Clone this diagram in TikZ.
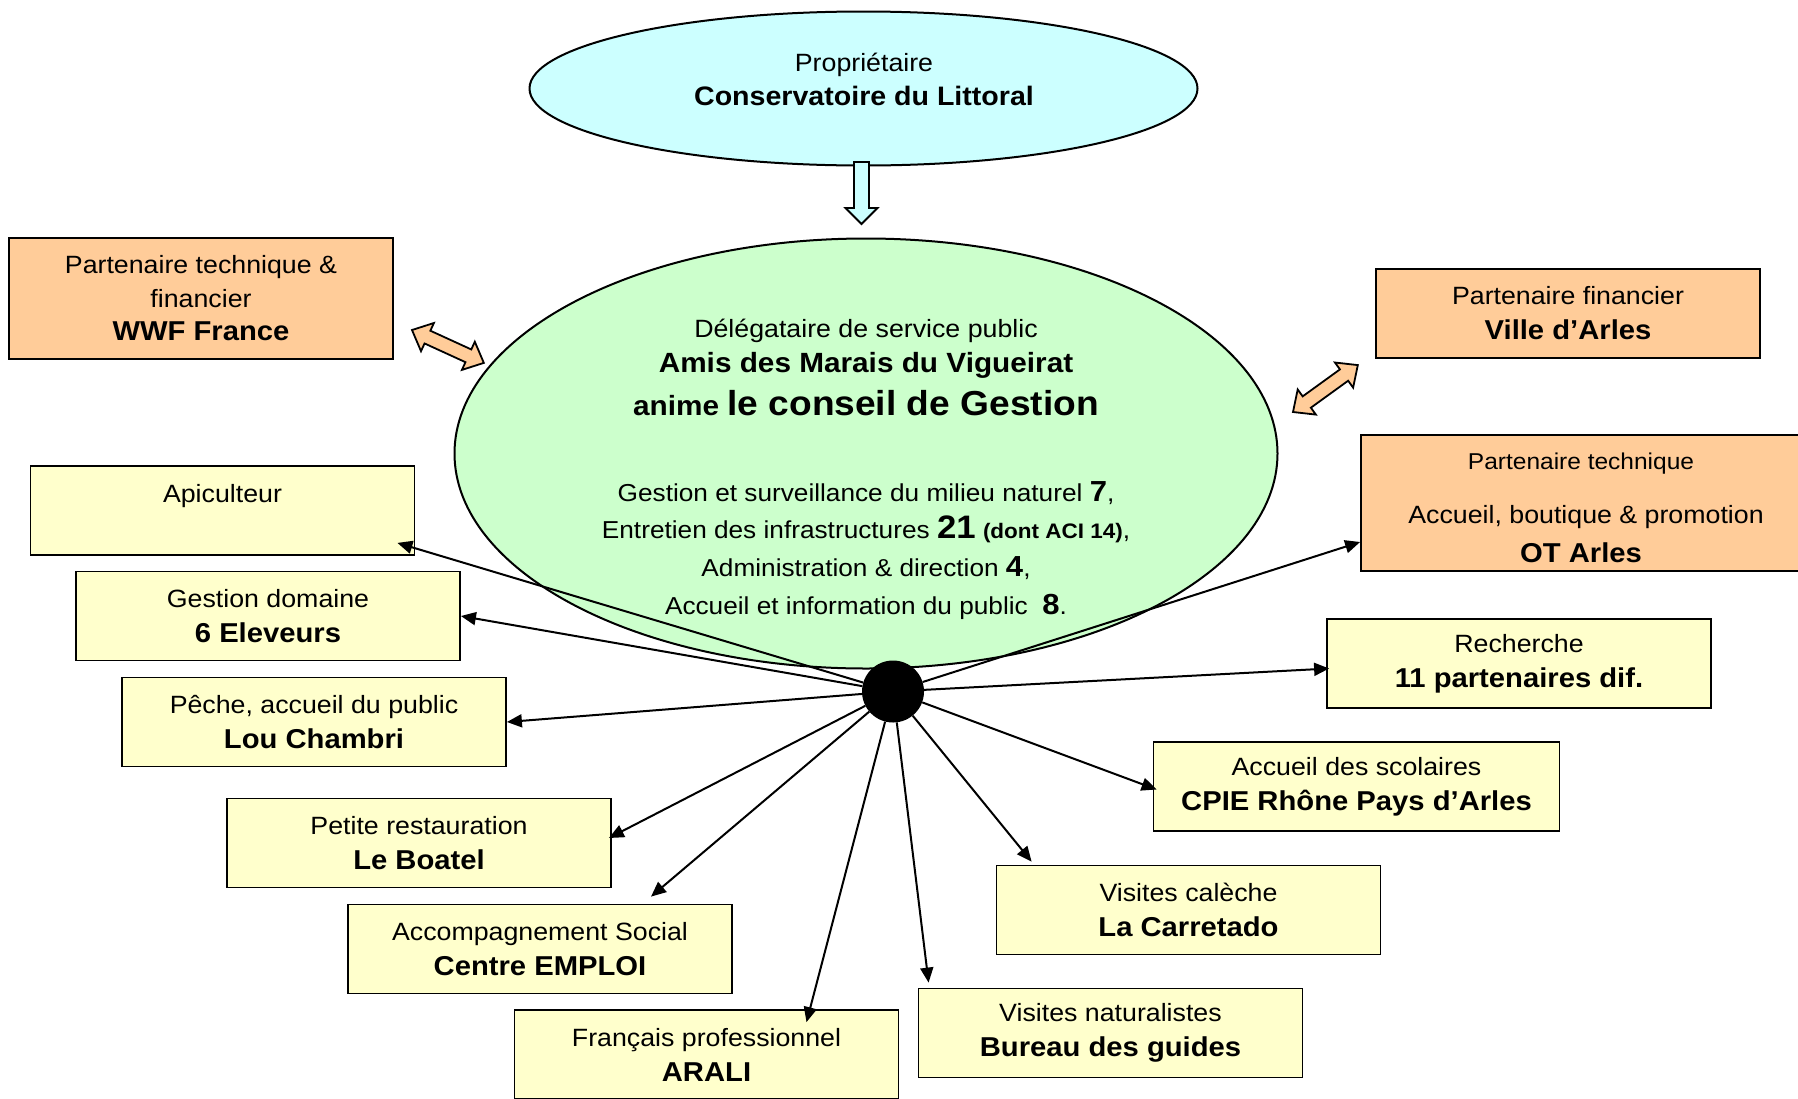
\documentclass[tikz,border=0pt]{standalone}
\usepackage{fontspec}
\setmainfont{Liberation Sans}[FakeStretch=1.07]
\usetikzlibrary{positioning,arrows.meta,calc,shapes.geometric}
\definecolor{ucyan}{HTML}{CCFFFF}
\definecolor{ugreen}{HTML}{CCFFCC}
\definecolor{uorange}{HTML}{FFCC99}
\definecolor{uyellow}{HTML}{FFFFCC}
\newcommand{\regtxt}{\fontsize{25}{35}\selectfont}
\newcommand{\boldtxt}{\fontsize{27.3}{35}\selectfont\bfseries}
\newcommand{\jobtxt}{\fontsize{24.5}{35}\selectfont}
\newcommand{\numtxt}{\fontsize{29}{35}\selectfont\bfseries}
\tikzset{
  box/.style  ={rectangle, draw=black, line width=1.8pt, inner sep=0pt,
                minimum width=384pt, minimum height=89pt, align=center, font=\regtxt},
  ybox/.style ={box, fill=uyellow},
  obox/.style ={box, fill=uorange},
  oval/.style ={ellipse, draw=black, line width=2pt, inner sep=0pt},
  lbl/.style  ={anchor=base, inner sep=0pt, font=\regtxt},
  link/.style ={-{Triangle[length=15pt,width=13pt]}, line width=2pt},
  fat/.style  ={draw=black, line width=1.8pt, fill=uorange, line join=miter},
  dblarrow/.pic ={\draw[fat] (0,0) -- (17,15.5) -- (17,7) -- (#1-17,7) -- (#1-17,15.5) -- (#1,0)
                  -- (#1-17,-15.5) -- (#1-17,-7) -- (17,-7) -- (17,-15.5) -- cycle;},
  downarrow/.pic={\draw[fat, fill=ucyan] (0,7.5) -- (#1-16,7.5) -- (#1-16,16) -- (#1,0)
                  -- (#1-16,-16) -- (#1-16,-7.5) -- (0,-7.5) -- cycle;},
}

\begin{document}
\begin{tikzpicture}[x=1pt, y=-1pt]
  \fill[white] (0,0) rectangle (1798,1098);
  \useasboundingbox (0,0) rectangle (1798,1098);
  % owner and delegate
  \node[oval, fill=ucyan, minimum width=668pt, minimum height=154pt] (own) at (863.5,88.5) {};
  \node[lbl] (ownA) at (864,71.5) {Propriétaire};
  \node[lbl, font=\fontsize{26.7}{35}\selectfont\bfseries] (ownB) at (864,105) {Conservatoire du Littoral};
  \pic[rotate=-90] at (861.5,162) {downarrow=62};
  \node[oval, fill=ugreen, minimum width=823pt, minimum height=430pt] (dsp) at (866,453.5) {};
  \node[lbl] (dspA) at (866,337) {Délégataire de service public};
  \node[lbl, font=\fontsize{27.8}{35}\selectfont\bfseries] (dspB) at (866,372) {Amis des Marais du Vigueirat};
  \node[lbl, font=\fontsize{27.8}{35}\selectfont\bfseries] (dspC) at (866,415)
    {anime {\fontsize{34.7}{40}\selectfont le conseil de Gestion}};
  \node[lbl, font=\jobtxt] (jobA) at (866,501) {Gestion et surveillance du milieu naturel {\numtxt 7},};
  \node[lbl, font=\jobtxt] (jobB) at (866,538)
    {Entretien des infrastructures {\fontsize{32.5}{35}\selectfont\bfseries 21} {\fontsize{21}{35}\selectfont\bfseries (dont ACI 14)},};
  \node[lbl, font=\jobtxt] (jobC) at (866,576) {Administration \& direction {\numtxt 4},};
  \node[lbl, font=\jobtxt] (jobD) at (866,614) {Accueil et information du public~~{\numtxt 8}.};
  % partners
  \node[obox, minimum height=121pt, font=\fontsize{25}{33.5}\selectfont] (wwf) at (201,298.5)
    {Partenaire technique \&\\financier\\{\boldtxt WWF France}};
  \node[obox] (ville) at (1568,313.5) {Partenaire financier\\{\boldtxt Ville d’Arles}};
  \node[obox, minimum width=446pt, minimum height=136pt] (ot) at (1584,503) {};
  \node[lbl, font=\fontsize{22.9}{35}\selectfont] (otA) at (1581,469) {Partenaire technique};
  \node[lbl] (otB) at (1586,523) {Accueil, boutique \& promotion};
  \node[lbl, font=\boldtxt] (otC) at (1581,562) {OT Arles};
  \pic[rotate=-24.6] at (412,330) {dblarrow=79};
  \pic[rotate=35.9] at (1293,412) {dblarrow=80};
  % activities
  \node[ybox] (api) at (222.5,510.5) {Apiculteur\\\mbox{}};
  \node[ybox] (gest) at (268,616) {Gestion domaine\\{\boldtxt 6 Eleveurs}};
  \node[ybox] (peche) at (314,722) {Pêche, accueil du public\\{\boldtxt Lou Chambri}};
  \node[ybox] (resto) at (419,843) {Petite restauration\\{\boldtxt Le Boatel}};
  \node[ybox] (social) at (540,949) {Accompagnement Social\\{\boldtxt Centre EMPLOI}};
  \node[ybox] (arali) at (706.5,1054.5) {Français professionnel\\{\boldtxt ARALI}};
  \node[ybox] (natur) at (1110.5,1033) {Visites naturalistes\\{\boldtxt Bureau des guides}};
  \node[ybox] (caleche) at (1188.5,910) {Visites calèche\\{\boldtxt La Carretado}};
  \node[ybox, minimum width=406pt] (scol) at (1356.5,786.5) {Accueil des scolaires\\{\boldtxt CPIE Rhône Pays d’Arles}};
  \node[ybox] (rech) at (1519,663.5) {Recherche\\{\boldtxt 11 partenaires dif.}};
  % hub and links
  \node[circle, fill=black, minimum size=62pt, inner sep=0pt] (hub) at (893,691.5) {};
  \draw[link] (hub) -- ($(api.south east)+(-18,-13)$);
  \draw[link] (hub) -- (gest.east);
  \draw[link] (hub) -- (peche.east);
  \draw[link] (hub) -- ($(resto.east)+(-3,-5)$);
  \draw[link] (hub) -- ($(social.north)+(111,-7)$);
  \draw[link] (hub) -- ($(arali.north)+(100,13)$);
  \draw[link] (hub) -- ($(natur.north west)+(11,-5)$);
  \draw[link] (hub) -- ($(caleche.north west)+(36,-3)$);
  \draw[link] (hub) -- ($(scol.west)+(4,3)$);
  \draw[link] (hub) -- ($(rech.west)+(3,5)$);
  \draw[link] (hub) -- ($(ot.west)+(0,39)$);
\end{tikzpicture}
\end{document}
